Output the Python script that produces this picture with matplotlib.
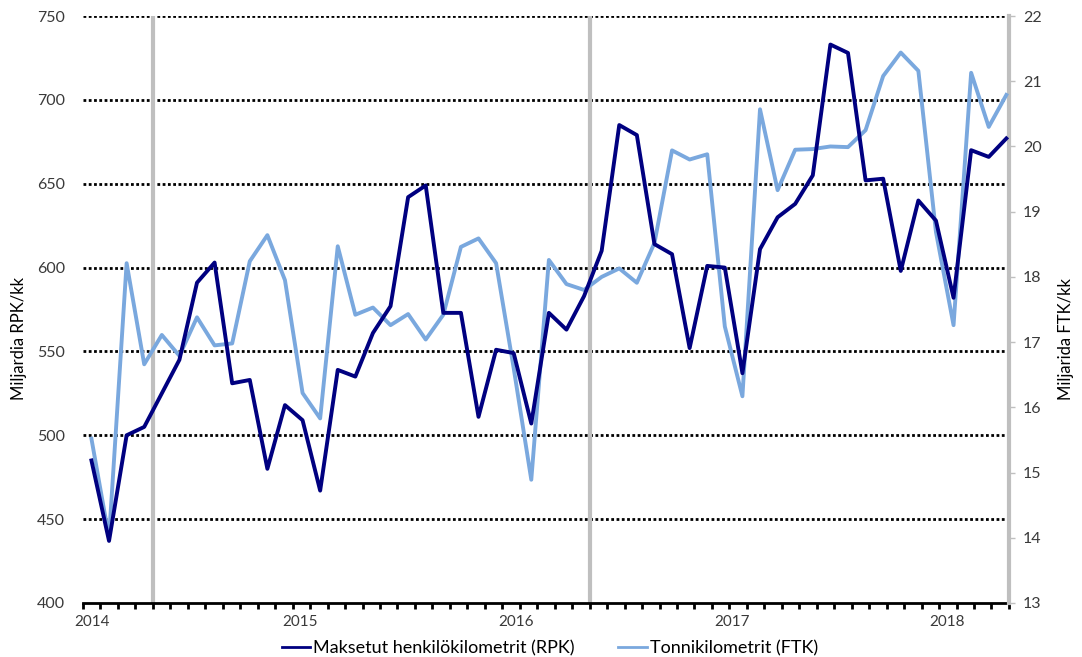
import numpy as np
import matplotlib
matplotlib.use("Agg")
import matplotlib.pyplot as plt

# Monthly data, Jan 2014 - May 2018
months = [f"{y}-{m:02d}" for y in range(2014, 2019) for m in range(1, 13)][:53]

rpk = [485, 437, 500, 505, 525, 545, 591, 603, 531, 533, 480, 518,
       509, 467, 539, 535, 561, 577, 642, 649, 573, 573, 511, 551,
       549, 507, 573, 563, 583, 610, 685, 679, 614, 608, 552, 601,
       600, 537, 611, 630, 638, 655, 733, 728, 652, 653, 598, 640,
       628, 582, 670, 666, 677]

ftk = [15.52, 14.00, 18.21, 16.66, 17.11, 16.79, 17.38, 16.95, 16.98, 18.24, 18.64, 17.95,
       16.22, 15.83, 18.47, 17.42, 17.53, 17.26, 17.43, 17.04, 17.42, 18.46, 18.59, 18.21,
       16.60, 14.89, 18.26, 17.89, 17.80, 18.00, 18.13, 17.91, 18.52, 19.94, 19.80, 19.88,
       17.24, 16.17, 20.57, 19.33, 19.95, 19.96, 20.00, 19.99, 20.25, 21.08, 21.44, 21.16,
       18.69, 17.26, 21.13, 20.30, 20.79]

year_labels = ["2014", "2015", "2016", "2017", "2018"]
year_pos = [0.04, 11.88, 24.14, 36.41, 48.63]
marker_months = [3.49, 28.33]   # gray vertical lines

left_ticks = [400, 450, 500, 550, 600, 650, 700, 750]
right_ticks = list(range(13, 23))

DARK = "#000080"
LIGHT = "#7AA8DE"
GRAY = "#BFBFBF"
TXT = "#3A3A3A"

plt.rcParams["font.family"] = ["Lato", "DejaVu Sans"]

fig = plt.figure(figsize=(10.82, 6.57), dpi=100)
ax = fig.add_axes([0.0767, 0.0822, 0.8558, 0.8934])
ax2 = ax.twinx()

x = np.arange(len(months))
xlim = (-0.48, 52.15)

# gridlines (left axis)
for v in left_ticks[1:]:
    ax.axhline(v, color="black", lw=2.0, linestyle=(0, (1.0, 0.9)), zorder=1)
for m in marker_months:
    ax.axvline(m, color=GRAY, lw=3, zorder=1)

# both lines live on ax2 so the dark one can sit on top; RPK uses the left scale
ax2.plot(x, ftk, color=LIGHT, lw=2.8, zorder=3, label="Tonnikilometrit (FTK)")
ax2.plot(x, rpk, color=DARK, lw=2.8, zorder=4, transform=ax.transData,
         label="Maksetut henkilökilometrit (RPK)")

ax.set_xlim(xlim)
ax.set_ylim(400, 750)
ax2.set_ylim(13, 22)

ax.set_yticks(left_ticks)
ax.set_yticklabels([str(t) for t in left_ticks])
ax2.set_yticks(right_ticks)
ax2.set_yticklabels([str(t) for t in right_ticks])

ax.set_xticks(year_pos)
ax.set_xticklabels(year_labels)
ax.set_xticks(np.linspace(xlim[0], xlim[1], 54), minor=True)
ax.tick_params(axis="x", which="major", length=0, pad=9, labelsize=11, labelcolor=TXT)
ax.tick_params(axis="x", which="minor", length=4, width=2, color="black", direction="out")
ax.tick_params(axis="y", length=0, pad=13, labelsize=11.5, labelcolor=TXT)
ax2.tick_params(axis="y", length=4, width=1, color=GRAY, pad=6, labelsize=11.5, labelcolor=TXT)

for s in ["left", "top", "right"]:
    ax.spines[s].set_visible(False)
for s in ["left", "top", "bottom"]:
    ax2.spines[s].set_visible(False)
ax.spines["bottom"].set_linewidth(2)
ax2.spines["right"].set_color(GRAY)
ax2.spines["right"].set_linewidth(3)

ax.set_ylabel("Miljardia RPK/kk", fontsize=12, color="black")
ax2.set_ylabel("Miljarida FTK/kk", fontsize=12, color="black")
ax.yaxis.set_label_coords(-0.060, 0.45)
ax2.yaxis.set_label_coords(1.053, 0.45)

h, l = ax2.get_legend_handles_labels()
fig.legend(h[::-1], l[::-1], loc="lower center", bbox_to_anchor=(0.508, -0.024),
           ncol=2, frameon=False, fontsize=13, handlelength=1.6, handletextpad=0.15,
           columnspacing=2.4)
for line in fig.legends[0].get_lines():
    line.set_linewidth(2)

fig.savefig("out.png", dpi=100)
